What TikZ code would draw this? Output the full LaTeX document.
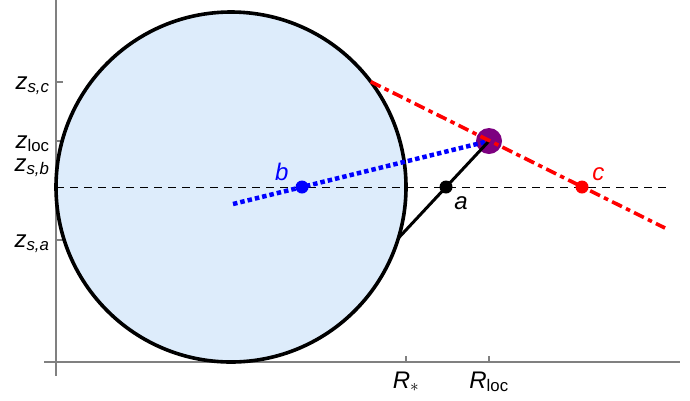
\documentclass[tikz,border=0pt]{standalone}
\usepackage{fontspec}
\setmainfont{Liberation Sans}
\usetikzlibrary{positioning}
\definecolor{starblue}{RGB}{221,236,251}
\definecolor{locpurple}{RGB}{125,0,128}
\newcommand{\zlab}[1]{\textit{z}\textsubscript{#1}}

\begin{document}
\begin{tikzpicture}[x=1pt,y=-1pt,line width=1pt,font=\fontsize{24}{26}\selectfont,
  axis/.style={draw=gray,line width=1.6pt},
  tickmark/.style={draw=gray,line width=1.2pt},
  dot/.style={circle,fill,inner sep=0pt,minimum size=13pt},
  lab/.style={inner sep=1pt}]
\useasboundingbox (0,0) rectangle (690,400);
\draw[axis] (56,0)--(56,376) (44,362)--(680,362);
\foreach \y in {82,141,163,240}{\draw[tickmark] (56,\y)--(63,\y);}
\foreach \x in {406,489}{\draw[tickmark] (\x,362)--(\x,356);}
\node (star) [circle,draw,line width=3.6pt,fill=starblue,inner sep=0pt,outer sep=0pt,minimum size=350pt] at (231,187) {};
\coordinate (sc) at (star.37);
\coordinate (sa) at (star.-17);
\coordinate (dl) at (56,187);
\coordinate (dr) at (668,187);
\coordinate (bstart) at (233,204);
\coordinate (cend) at (665,228);
\draw[line width=0.9pt,dash pattern=on 8pt off 6pt] (dl)--(dr);
\node (loc) [dot,fill=locpurple,minimum size=26pt] at (489,141) {};
\draw[blue,line width=4.5pt,dash pattern=on 4.5pt off 3pt] (bstart)--(loc.center);
\draw[line width=3pt] (sa)--(loc.center);
\draw[red,line width=3.6pt,dash pattern=on 11pt off 4.5pt on 4.5pt off 4.5pt] (sc)--(cend);
\node (bdot) [dot,blue] at (302,187) {};
\node (adot) [dot] at (446,187) {};
\node (cdot) [dot,red] at (582,187) {};
\node (blab) [lab,blue,above left=0pt and 7pt of bdot] {\textit{b}};
\node (alab) [lab,below right=3pt and 2pt of adot] {\textit{a}};
\node (clab) [lab,red,above right=0pt and 4pt of cdot] {\textit{c}};
\node[anchor=base east,lab] at (51,89) {\zlab{\textit{s,c}}};
\node[anchor=base east,lab] at (51,148) {\zlab{loc}};
\node[anchor=base east,lab] at (51,171) {\zlab{\textit{s,b}}};
\node[anchor=base east,lab] at (51,247) {\zlab{\textit{s,a}}};
\node[anchor=base,lab] at (406,388) {\textit{R}\textsubscript{$*$}};
\node[anchor=base,lab] at (489,388) {\textit{R}\textsubscript{loc}};
\end{tikzpicture}
\end{document}
